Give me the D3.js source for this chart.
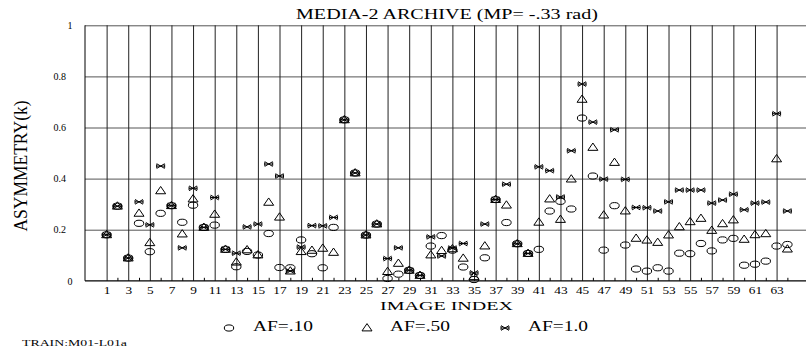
<!DOCTYPE html>
<html>
<head>
<meta charset="utf-8">
<script src="https://cdn.jsdelivr.net/npm/d3@7"></script>
<style>
  html, body { margin: 0; padding: 0; background: #fff; }
  svg { display: block; }
  text { font-family: "Liberation Serif", "DejaVu Serif", serif; fill: #000; }
</style>
</head>
<body>
<svg id="chart" width="806" height="352"></svg>
<script>
// Image index 1..64
const imageIndex = d3.range(1, 65);

// Asymmetry k per image for each AF setting
const af10 = [
  0.180, 0.292, 0.089, 0.225, 0.114, 0.264, 0.294, 0.229, 0.296, 0.209,
  0.218, 0.123, 0.055, 0.115, 0.101, 0.185, 0.052, 0.051, 0.160, 0.106,
  0.051, 0.209, 0.630, 0.422, 0.179, 0.222, 0.009, 0.026, 0.041, 0.021,
  0.136, 0.177, 0.120, 0.054, 0.005, 0.090, 0.318, 0.228, 0.145, 0.107,
  0.123, 0.273, 0.311, 0.281, 0.637, 0.410, 0.120, 0.294, 0.140, 0.046,
  0.038, 0.051, 0.038, 0.108, 0.106, 0.146, 0.117, 0.160, 0.166, 0.061,
  0.065, 0.077, 0.136, 0.142
];
const af50 = [
  0.180, 0.292, 0.089, 0.264, 0.149, 0.352, 0.294, 0.183, 0.320, 0.209,
  0.260, 0.123, 0.073, 0.121, 0.101, 0.307, 0.249, 0.038, 0.114, 0.119,
  0.127, 0.111, 0.630, 0.422, 0.179, 0.222, 0.036, 0.068, 0.041, 0.021,
  0.101, 0.118, 0.125, 0.088, 0.016, 0.136, 0.318, 0.296, 0.145, 0.107,
  0.229, 0.320, 0.240, 0.398, 0.710, 0.522, 0.257, 0.463, 0.273, 0.166,
  0.159, 0.150, 0.179, 0.211, 0.231, 0.244, 0.197, 0.223, 0.238, 0.162,
  0.180, 0.184, 0.477, 0.124
];
const af100 = [
  0.180, 0.292, 0.089, 0.309, 0.219, 0.449, 0.294, 0.129, 0.362, 0.209,
  0.326, 0.123, 0.108, 0.211, 0.222, 0.457, 0.410, 0.038, 0.132, 0.216,
  0.215, 0.248, 0.630, 0.422, 0.179, 0.222, 0.087, 0.129, 0.041, 0.021,
  0.172, 0.097, 0.128, 0.146, 0.031, 0.222, 0.318, 0.378, 0.145, 0.107,
  0.446, 0.431, 0.328, 0.509, 0.770, 0.621, 0.398, 0.591, 0.397, 0.287,
  0.286, 0.273, 0.309, 0.355, 0.355, 0.355, 0.304, 0.316, 0.339, 0.278,
  0.304, 0.308, 0.654, 0.273
];

const xTickLabels = d3.range(1, 64, 2);
const yTickValues = [0, 0.2, 0.4, 0.6, 0.8, 1];
const legendLabels = ["AF=.10", "AF=.50", "AF=1.0"];

const svg = d3.select("#chart");
const plotLeft = 85, plotTop = 25.3, plotBottom = 280.8;
const step = 10.806;
const x = d3.scaleLinear().domain([-1, 66]).range([plotLeft, plotLeft + 67 * step]);
const y = d3.scaleLinear().domain([0, 1]).range([plotBottom, plotTop]);
const plotW = x(66) - plotLeft;
const plotH = plotBottom - plotTop;
const SX = 1.33; // horizontal widening of the serif glyphs

// Horizontal grid lines
svg.append("g")
  .attr("transform", `translate(${plotLeft},0)`)
  .call(d3.axisLeft(y).tickValues([0.2, 0.4, 0.6, 0.8, 1]).tickSize(-plotW).tickFormat(""))
  .call(g => g.select(".domain").remove())
  .call(g => g.selectAll("line").attr("stroke", "#555").attr("stroke-width", 1));

// Vertical grid lines at odd image indices
svg.append("g")
  .attr("transform", `translate(0,${plotBottom})`)
  .call(d3.axisBottom(x).tickValues(xTickLabels).tickSize(-plotH).tickFormat(""))
  .call(g => g.select(".domain").remove())
  .call(g => g.selectAll("line").attr("stroke", "#222").attr("stroke-width", 1));

// Minor ticks at even indices
svg.append("g")
  .attr("transform", `translate(0,${plotBottom})`)
  .call(d3.axisBottom(x).tickValues(d3.range(2, 65, 2)).tickSize(-3).tickFormat(""))
  .call(g => g.select(".domain").remove())
  .call(g => g.selectAll("line").attr("stroke", "#000"));

// Frame: left edge and base line
svg.append("line").attr("x1", plotLeft).attr("x2", plotLeft).attr("y1", plotTop).attr("y2", plotBottom)
  .attr("stroke", "#000");
svg.append("line").attr("x1", plotLeft).attr("x2", 806).attr("y1", plotBottom).attr("y2", plotBottom)
  .attr("stroke", "#000").attr("stroke-width", 1.2);

// X tick labels
svg.append("g")
  .attr("transform", `translate(0,${plotBottom})`)
  .call(d3.axisBottom(x).tickValues(xTickLabels).tickSize(0).tickPadding(6))
  .call(g => g.select(".domain").remove())
  .call(g => g.selectAll("text")
    .attr("font-size", 10)
    .attr("transform", `scale(${SX},1)`));

// Y tick labels
svg.append("g")
  .attr("transform", `translate(${plotLeft},0)`)
  .call(d3.axisLeft(y).tickValues(yTickValues).tickSize(0)
    .tickFormat(d => d === 0 || d === 1 ? d3.format("d")(d) : d3.format(".1f")(d)))
  .call(g => g.select(".domain").remove())
  .call(g => g.selectAll("text")
    .attr("font-size", 10)
    .attr("text-anchor", d => (d === 0 || d === 1) ? "middle" : "end")
    .attr("x", d => (d === 0 || d === 1) ? -15 : -19));

// Marker shapes
const triPath = "M0,-4.4L5,2.9L-5,2.9Z";
const starPath = "M-4,-2.4L4,2.4M-4,2.4L4,-2.4M-4,0L4,0M-4,-1.8L-4,1.8M4,-1.8L4,1.8";

const series = [
  { values: af10, draw: sel => sel.append("ellipse").attr("rx", 4.7).attr("ry", 3.1) },
  { values: af50, draw: sel => sel.append("path").attr("d", triPath) },
  { values: af100, draw: sel => sel.append("path").attr("d", starPath) }
];

const marks = svg.append("g")
  .attr("fill", "none").attr("stroke", "#000").attr("stroke-width", 1);
series.forEach(s => {
  const pts = marks.append("g").selectAll("g")
    .data(imageIndex.map((idx, i) => ({ idx, v: s.values[i] })))
    .join("g")
    .attr("transform", d => `translate(${x(d.idx)},${y(d.v)})`);
  s.draw(pts);
});

// Title
svg.append("text")
  .attr("x", 447).attr("y", 19)
  .attr("text-anchor", "middle")
  .attr("font-size", 14)
  .attr("textLength", 302).attr("lengthAdjust", "spacingAndGlyphs")
  .text("MEDIA-2 ARCHIVE (MP= -.33 rad)");

// Axis titles
svg.append("text")
  .attr("x", 446.5).attr("y", 309.5)
  .attr("text-anchor", "middle")
  .attr("font-size", 13.5)
  .attr("textLength", 133).attr("lengthAdjust", "spacingAndGlyphs")
  .text("IMAGE INDEX");

svg.append("g")
  .attr("transform", "translate(27,166) rotate(-90) scale(1,1.3)")
  .append("text")
  .attr("text-anchor", "middle")
  .attr("font-size", 14.5)
  .attr("textLength", 131).attr("lengthAdjust", "spacingAndGlyphs")
  .text("ASYMMETRY(k)");

// Legend
const legendSymX = [229, 367, 505];
const legendTextX = [253, 390, 528];
const legendY = 328;
const lg = svg.append("g");
series.forEach((s, i) => {
  const g = lg.append("g")
    .attr("transform", `translate(${legendSymX[i]},${legendY})`)
    .attr("fill", "none").attr("stroke", "#000");
  s.draw(g);
  lg.append("text")
    .attr("x", legendTextX[i]).attr("y", legendY + 3)
    .attr("font-size", 14)
    .attr("textLength", 60).attr("lengthAdjust", "spacingAndGlyphs")
    .text(legendLabels[i]);
});

// Footer tag
svg.append("text")
  .attr("x", 22).attr("y", 346)
  .attr("font-size", 9)
  .attr("textLength", 105).attr("lengthAdjust", "spacingAndGlyphs")
  .text("TRAIN:M01-L01a");
</script>
</body>
</html>
